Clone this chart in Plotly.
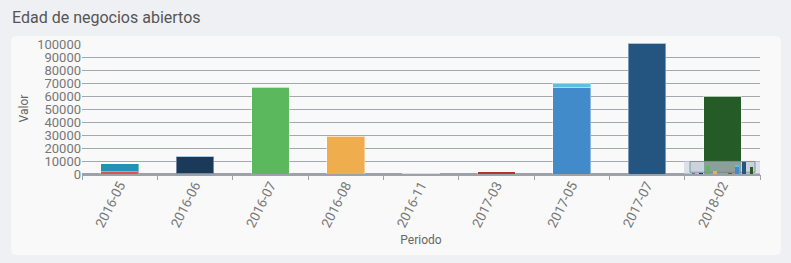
import plotly.graph_objects as go

# ---------------- data ----------------
categories = ["2016-05", "2016-06", "2016-07", "2016-08", "2016-11",
              "2017-03", "2017-05", "2017-07", "2018-02"]

base_values = [1800, 300, 0, 0, 0, 1800, 0, 0, 0]
main_values = [6000, 12800, 66600, 29000, 200, 0, 66600, 100500, 60000]
cap_values = [0, 1000, 0, 0, 0, 0, 3200, 0, 0]

base_colors = ["#d9534f", "#3c763d", "#5cb85c", "#f0ad4e", "#9da1a8",
               "#b8322c", "#428bca", "#245580", "#255b27"]
main_colors = ["#2293b2", "#1b3a5a", "#5cb85c", "#f0ad4e", "#9da1a8",
               "#b8322c", "#428bca", "#245580", "#255b27"]
cap_colors = ["#6fa8dc", "#6fa8dc", "#5cb85c", "#f0ad4e", "#9da1a8",
              "#b8322c", "#5bc0de", "#245580", "#255b27"]

y_ticks = [0, 10000, 20000, 30000, 40000, 50000, 60000, 70000, 80000, 90000, 100000]
y_max = 100770

# ---------------- layout geometry (pixels) ----------------
W, H = 791, 263
L, R, T, B = 82, 31, 43, 89
PW, PH = W - L - R, H - T - B


def pxx(x):
    return (x - L) / PW


def pxy(y):
    return (H - B - y) / PH


def clamp(v):
    return max(0.0, min(1.0, v))


def rounded_rect(x0, y0, x1, y1, r):
    X = lambda v: pxx(v)
    Y = lambda v: pxy(v)
    p = (f"M {X(x0 + r)},{Y(y0)} L {X(x1 - r)},{Y(y0)} "
         f"Q {X(x1)},{Y(y0)} {X(x1)},{Y(y0 + r)} "
         f"L {X(x1)},{Y(y1 - r)} Q {X(x1)},{Y(y1)} {X(x1 - r)},{Y(y1)} "
         f"L {X(x0 + r)},{Y(y1)} Q {X(x0)},{Y(y1)} {X(x0)},{Y(y1 - r)} "
         f"L {X(x0)},{Y(y0 + r)} Q {X(x0)},{Y(y0)} {X(x0 + r)},{Y(y0)} Z")
    return p


fig = go.Figure()

layers = [(base_values, base_colors), (main_values, main_colors), (cap_values, cap_colors)]

# main bars
for vals, cols in layers:
    fig.add_trace(go.Bar(
        x=categories, y=vals, marker=dict(color=cols,
                                          line=dict(color="rgba(255,255,255,0.4)", width=1)),
        xaxis="x", yaxis="y", showlegend=False, hoverinfo="x+y"))

# inset navigator background (x2/y2 unit axes)
nx0, nx1 = 684, 760
ny0, ny1 = 176, 160.7
fig.add_trace(go.Scatter(x=[0, 1, 1, 0, 0], y=[0, 0, 1, 1, 0], mode="lines",
                         fill="toself", fillcolor="rgba(200,209,223,0.62)",
                         line=dict(width=0), xaxis="x2", yaxis="y2",
                         showlegend=False, hoverinfo="skip"))
ix0, ix1 = (690 - nx0) / (nx1 - nx0), (755 - nx0) / (nx1 - nx0)
iy0, iy1 = (ny0 - 174) / (ny0 - ny1), (ny0 - 161.5) / (ny0 - ny1)
fig.add_trace(go.Scatter(x=[ix0, ix1, ix1, ix0, ix0], y=[iy0, iy0, iy1, iy1, iy0], mode="lines",
                         fill="toself", fillcolor="rgba(140,150,160,0.18)",
                         line=dict(width=1, color="rgba(120,128,140,0.8)"),
                         xaxis="x2", yaxis="y2", showlegend=False, hoverinfo="skip"))

# inset mini bars
for vals, cols in layers:
    fig.add_trace(go.Bar(
        x=categories, y=vals, marker=dict(color=cols, line=dict(width=0)),
        xaxis="x3", yaxis="y3", showlegend=False, hoverinfo="skip"))

y_tick_font = dict(family="Roboto, Arial, sans-serif", size=13, color="#777777")
x_tick_font = dict(family="Roboto, Arial, sans-serif", size=13.5, color="#777777")

fig.update_layout(
    width=W, height=H,
    margin=dict(l=L, r=R, t=T, b=B),
    paper_bgcolor="#eff0f4",
    plot_bgcolor="rgba(0,0,0,0)",
    barmode="stack",
    bargap=0.5,
    font=dict(family="Roboto, Arial, sans-serif", color="#777777"),
    title=dict(text="Edad de negocios abiertos", x=12 / W, xanchor="left",
               y=1 - 17 / H, yanchor="middle",
               font=dict(family="Roboto, Arial, sans-serif", size=16, color="#555555")),
    xaxis=dict(type="category", domain=[0, 1], tickangle=-63,
               tickfont=x_tick_font, ticks="outside", tickson="boundaries",
               ticklen=5, tickcolor="#9da1a8", showgrid=False, showline=False,
               title=dict(text="Periodo", font=dict(size=12, color="#666666"), standoff=6),
               fixedrange=True),
    yaxis=dict(range=[0, y_max], tickvals=y_ticks, tickformat="d",
               tickfont=y_tick_font, showgrid=True, gridcolor="#a3a7ae", gridwidth=1,
               zeroline=True, zerolinecolor="#9da1a8", zerolinewidth=3,
               showline=False, ticks="",
               title=dict(text="Valor", font=dict(size=12, color="#666666"), standoff=5),
               fixedrange=True),
    xaxis2=dict(domain=[clamp(pxx(nx0)), clamp(pxx(nx1))], range=[0, 1], visible=False,
                anchor="y2", fixedrange=True),
    yaxis2=dict(domain=[clamp(pxy(ny0)), clamp(pxy(ny1))], range=[0, 1], visible=False,
                anchor="x2", fixedrange=True),
    xaxis3=dict(domain=[clamp(pxx(690)), clamp(pxx(755))], type="category", visible=False,
                anchor="y3", fixedrange=True),
    yaxis3=dict(domain=[clamp(pxy(174.3)), clamp(pxy(162))], range=[0, y_max], visible=False,
                anchor="x3", fixedrange=True),
    shapes=[dict(type="path", xref="paper", yref="paper", layer="below",
                 path=rounded_rect(11, 36, 781, 255, 6),
                 fillcolor="#f9f9f9", line=dict(width=0))],
)

fig.write_html("out.html")
